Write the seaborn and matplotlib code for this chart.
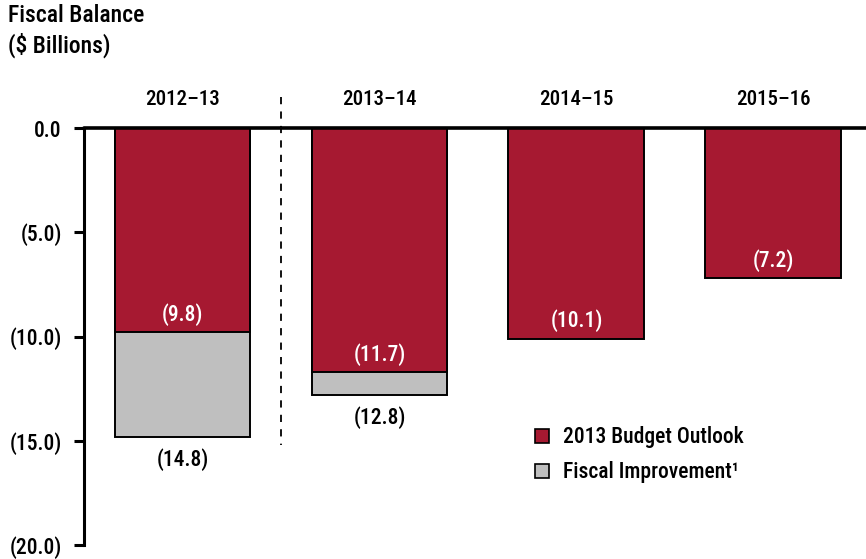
import numpy as np
import pandas as pd
import matplotlib
matplotlib.use("Agg")
import matplotlib.pyplot as plt
from matplotlib.patches import Patch
import seaborn as sns

# Fiscal balance by year, $ billions
years = ["2012\u201313", "2013\u201314", "2014\u201315", "2015\u201316"]
budget_outlook = [-9.8, -11.7, -10.1, -7.2]
with_improvement = [-14.8, -12.8, None, None]

RED = "#A61931"
GREY = "#BFBFBF"

sns.set_theme(style="white")
plt.rcParams["font.family"] = ["Roboto Condensed", "DejaVu Sans Condensed",
                               "Liberation Sans Narrow", "Liberation Sans"]
plt.rcParams["font.weight"] = "medium"
plt.rcParams["text.color"] = "black"
plt.rcParams["ytick.color"] = "black"
plt.rcParams["ytick.labelcolor"] = "black"

fig = plt.figure(figsize=(8.66, 5.59), dpi=100)
ax = fig.add_axes([0.097, 0.025, 0.903, 0.746])

outlook_df = pd.DataFrame({"year": years, "value": budget_outlook})
improve_df = pd.DataFrame({"year": years, "value": with_improvement}).dropna()

bw = 0.69
sns.barplot(data=improve_df, x="year", y="value", order=years, color=GREY,
            edgecolor="black", linewidth=1.4, width=bw, saturation=1, ax=ax)
sns.barplot(data=outlook_df, x="year", y="value", order=years, color=RED,
            edgecolor="black", linewidth=1.4, width=bw, saturation=1, ax=ax)

ax.set_xlim(-0.5, 3.47)
ax.set_ylim(-20, 0)
ax.set_xlabel("")
ax.set_ylabel("")
ax.set_xticks([])

yt = [0, -5, -10, -15, -20]
ax.set_yticks(yt)
ax.set_yticklabels(["0.0" if v == 0 else f"({abs(v):.1f})" for v in yt], fontsize=15.5)
ax.tick_params(axis="y", direction="out", length=7, width=2.2, left=True, pad=9)

for side in ["top", "right", "bottom"]:
    ax.spines[side].set_visible(False)
ax.spines["left"].set_linewidth(2.2)
ax.spines["left"].set_color("black")
ax.axhline(0, color="black", lw=2.6, clip_on=False, zorder=5)

# year headings above the zero line
for i, y in enumerate(years):
    ax.text(i, 1.35, y, ha="center", va="center", fontsize=15, clip_on=False)

# dashed divider between actual and forecast years
ax.plot([0.5, 0.5], [1.5, -15.2], ls=(0, (4, 4)), color="black", lw=1.3,
        clip_on=False)

# value labels
for i, v in enumerate(budget_outlook):
    ax.text(i, v + 0.85, f"({abs(v):.1f})", ha="center", va="center",
            color="white", fontsize=15.5)
for i, v in enumerate(with_improvement):
    if v is not None:
        ax.text(i, v - 1.1, f"({abs(v):.1f})", ha="center", va="center",
                color="black", fontsize=15.5)

handles = [Patch(facecolor=RED, edgecolor="black", lw=1.2),
           Patch(facecolor=GREY, edgecolor="black", lw=1.2)]
ax.legend(handles, ["2013 Budget Outlook", "Fiscal Improvement\u00b9"],
          loc="upper left", bbox_to_anchor=(0.566, 0.305), frameon=False,
          fontsize=15.5, handlelength=0.65, handleheight=0.65, handletextpad=0.65,
          labelspacing=0.6, borderaxespad=0, labelcolor="black")

fig.text(0.009, 0.992, "Fiscal Balance\n($ Billions)", ha="left", va="top",
         fontsize=17, linespacing=1.25)

fig.savefig("out.png", dpi=100)
